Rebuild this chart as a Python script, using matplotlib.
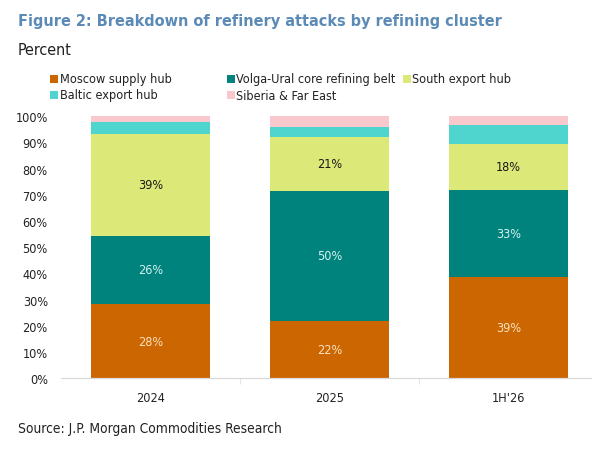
import numpy as np
import matplotlib
matplotlib.use('Agg')
import matplotlib.pyplot as plt
from matplotlib import font_manager
from matplotlib.font_manager import FontProperties
from matplotlib.patches import Rectangle

# Data
periods = ['2024', '2025', "1H'26"]
clusters = ['Moscow supply hub', 'Volga-Ural core refining belt', 'South export hub',
            'Baltic export hub', 'Siberia & Far East']
moscow = [28.3, 21.9, 38.6]
volga = [26.1, 49.6, 33.4]
south = [39.0, 20.7, 17.6]
baltic = [4.4, 3.9, 6.9]
siberia = [2.2, 3.9, 3.5]
series = [moscow, volga, south, baltic, siberia]

colors = ['#CC6600', '#00827D', '#DCE878', '#4FD4CE', '#F9C8CC']
label_colors = ['#FBE2C0', '#D5F2F0', '#1a1a1a', None, None]


# look for a narrow/condensed upright face (the original uses Arial Narrow)
def find_narrow(bold):
    for f in font_manager.fontManager.ttflist:
        p = f.fname.lower()
        if not any(k in p for k in ('narrow', 'condensed')):
            continue
        if f.style != 'normal' or any(k in p for k in ('semi', 'extra', 'ultra', 'ital', 'obl')):
            continue
        w = f.weight if isinstance(f.weight, int) else 400
        if bold and w == 700 or (not bold and w == 400):
            return f.fname
    return None


reg_path, bold_path = find_narrow(False), find_narrow(True)
if reg_path and bold_path:
    fp_reg = FontProperties(fname=reg_path)
    fp_bold = FontProperties(fname=bold_path)
else:
    fp_reg = FontProperties(family='Liberation Sans')
    fp_bold = FontProperties(family='Liberation Sans', weight='bold')


def fp(size, bold=False):
    p = (fp_bold if bold else fp_reg).copy()
    p.set_size(size)
    return p


fig = plt.figure(figsize=(5.92, 4.64), dpi=100)
renderer = fig.canvas.get_renderer()


def fit(t, width_px):
    # shrink/grow a text so that it spans the same width as in the original
    w = t.get_window_extent(renderer).width
    t.set_fontsize(t.get_fontsize() * width_px / w)
    return t.get_fontsize()


ax = fig.add_axes([61 / 592, 1 - 379.3 / 464, 531 / 592, (379.3 - 117.3) / 464])

# size of small texts, from the "Moscow supply hub" legend entry (~98 px wide),
# made a bit larger since the fallback narrow face is wider than Arial Narrow
probe = fig.text(0, 0, clusters[0], fontproperties=fp(10))
small = fit(probe, 98) * 1.14
probe.remove()

x = np.arange(len(periods))
bottom = np.zeros(len(periods))
for vals, col, lcol in zip(series, colors, label_colors):
    vals = np.array(vals)
    ax.bar(x, vals, width=0.668, bottom=bottom, color=col, linewidth=0)
    if lcol is not None:
        for xi, b, v in zip(x, bottom, vals):
            ax.text(xi, b + v / 2, f'{round(v):.0f}%', ha='center', va='center',
                    fontproperties=fp(small), color=lcol)
    bottom += vals

ax.set_xlim(-0.5, 2.466)
ax.set_ylim(0, 100)
ax.set_yticks(np.arange(0, 101, 10))
ax.set_yticklabels([f'{t}%' for t in range(0, 101, 10)])
ax.set_xticks(x)
ax.set_xticklabels(periods)
ax.set_xticks([0.5, 1.5], minor=True)
for lbl in ax.get_xticklabels() + ax.get_yticklabels():
    lbl.set_fontproperties(fp(small))
    lbl.set_color('#222222')
ax.tick_params(axis='both', which='major', length=0)
ax.tick_params(axis='y', pad=9.5)
ax.tick_params(axis='x', pad=9.5)
ax.tick_params(axis='x', which='minor', length=4, color='#e4e4e4', width=0.8)
for s in ['top', 'right', 'left']:
    ax.spines[s].set_visible(False)
ax.spines['bottom'].set_color('#d9d9d9')
ax.spines['bottom'].set_linewidth(0.9)

# Legend, laid out like the original (3 columns, 2 rows)
leg_pos = [(50, 80), (227, 80), (403, 80), (50, 96), (227, 96)]
for (px, py), name, col in zip(leg_pos, clusters, colors):
    fig.patches.append(Rectangle((px / 592, 1 - (py + 4) / 464), 8 / 592, 8 / 464,
                                 transform=fig.transFigure, color=col, linewidth=0))
    fig.text((px + 9.5) / 592, 1 - py / 464, name, ha='left', va='center',
             fontproperties=fp(small), color='#222222')

title = fig.text(18 / 592, 1 - 26 / 464,
                 'Figure 2: Breakdown of refinery attacks by refining cluster',
                 fontproperties=fp(15, bold=True), color='#5B8AB6', va='baseline')
fit(title, 484)
sub = fig.text(18 / 592, 1 - 55 / 464, 'Percent', fontproperties=fp(13), color='#222222',
               va='baseline')
fit(sub, 54)
src = fig.text(18 / 592, 1 - 433 / 464, 'Source: J.P. Morgan Commodities Research',
               fontproperties=fp(11), color='#222222', va='baseline')
fit(src, 264)

fig.savefig('out.png', dpi=100)
